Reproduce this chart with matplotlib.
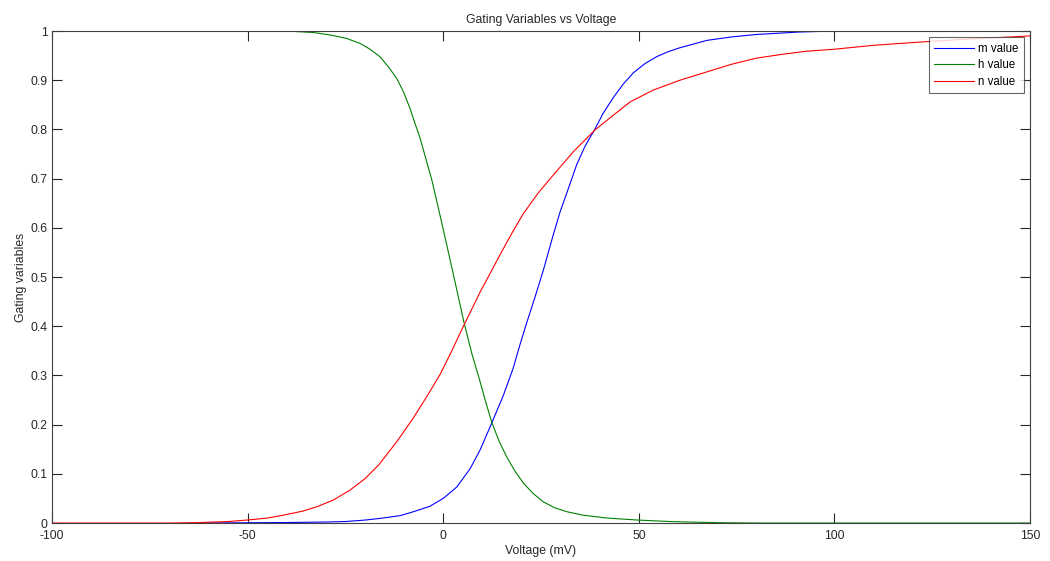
import numpy as np
import matplotlib
matplotlib.use('Agg')
import matplotlib.pyplot as plt

# values
v_m = [-62.7, -50, -40, -30, -25, -20, -16, -11, -7.6, -3.4, 0, 3.45, 6.85,
       9.4, 12.4, 15.4, 17.9, 19.6, 21.3, 23.5, 25.6, 28.1, 29.9, 32.0, 34.1,
       36.2, 38.8, 40.9, 43.5, 46.0, 48.6, 51.6, 54.6, 57.5, 60.5, 67.4, 73.7,
       80.1, 91, 100]
m_val = [0.0, 0.0005, 0.001, 0.002, 0.003, 0.006, 0.0095, 0.015, 0.023, 0.034,
         0.050, 0.073, 0.110, 0.148, 0.203, 0.260, 0.315, 0.362, 0.406, 0.460,
         0.514, 0.585, 0.633, 0.680, 0.728, 0.765, 0.801, 0.833, 0.865, 0.892,
         0.915, 0.934, 0.948, 0.958, 0.966, 0.981, 0.988, 0.993, 0.998, 1.0]

v_h = [-40, -33.2, -28.9, -24.7, -21.3, -18.7, -16.2, -14.0, -11.9, -10.2,
       -8.5, -7.2, -5.9, -4.7, -2.9, -0.8, 1.0, 2.6, 4.0, 5.3, 7.3, 9.4, 10.9,
       12.4, 14.3, 16.2, 18.3, 20.5, 23, 25.6, 28.5, 31.6, 35.7, 42, 49.8, 58,
       65.6, 72, 80, 150]
h_val = [1.0, 0.997, 0.992, 0.985, 0.975, 0.963, 0.948, 0.927, 0.904, 0.877,
         0.843, 0.812, 0.782, 0.748, 0.697, 0.625, 0.562, 0.505, 0.455, 0.408,
         0.345, 0.288, 0.245, 0.205, 0.166, 0.135, 0.106, 0.081, 0.060, 0.043,
         0.031, 0.023, 0.016, 0.010, 0.006, 0.003, 0.0015, 0.0005, 0.0, 0.0]

v_n = [-100, -70, -62.2, -55, -50.2, -45, -40.9, -36, -32.3, -28, -23.8, -20,
       -16.5, -11.9, -7.6, -4.2, -0.8, 2.2, 5.1, 7.7, 9.4, 11.1, 14.5, 17.9,
       20.5, 24.3, 28.1, 33.3, 38.8, 43.5, 47.8, 53.7, 60.5, 67.4, 73.5, 80.1,
       87, 93, 100, 110, 122.7, 135, 150]
n_val = [0.0, 0.0, 0.001, 0.003, 0.006, 0.010, 0.016, 0.024, 0.033, 0.047,
         0.067, 0.090, 0.118, 0.165, 0.214, 0.257, 0.302, 0.350, 0.399, 0.441,
         0.469, 0.494, 0.545, 0.594, 0.629, 0.671, 0.707, 0.755, 0.799, 0.829,
         0.856, 0.880, 0.900, 0.917, 0.932, 0.945, 0.953, 0.959, 0.963, 0.971,
         0.978, 0.984, 0.99]

xticks = [-100, -50, 0, 50, 100, 150]
yticks = [0, 0.1, 0.2, 0.3, 0.4, 0.5, 0.6, 0.7, 0.8, 0.9, 1]
ylabels = ['0', '0.1', '0.2', '0.3', '0.4', '0.5', '0.6', '0.7', '0.8', '0.9', '1']

plt.rcParams['font.family'] = ['Liberation Sans', 'DejaVu Sans']

fig = plt.figure(figsize=(10.5, 5.61), dpi=100)
ax = fig.add_axes([0.0495, 0.0677, 0.9315, 0.877])

ax.plot(v_m, m_val, color=(0, 0, 1), lw=0.8, label='m value')
ax.plot(v_h, h_val, color=(0, 0.5, 0), lw=0.8, label='h value')
ax.plot(v_n, n_val, color=(1, 0, 0), lw=0.8, label='n value')

ax.set_xlim(-100, 150)
ax.set_ylim(0, 1)
ax.set_xticks(xticks)
ax.set_xticklabels([str(t) for t in xticks])
ax.set_yticks(yticks)
ax.set_yticklabels(ylabels)
ax.tick_params(direction='in', length=7, width=0.8, top=True, right=True,
               labelsize=8.8, colors='0.15')
ax.tick_params(axis='x', pad=5)
ax.tick_params(axis='y', pad=3)
for sp in ax.spines.values():
    sp.set_color('0.25')
    sp.set_linewidth(0.8)

ax.set_title('Gating Variables vs Voltage', fontsize=8.8, color='0.15', pad=6)
ax.set_xlabel('Voltage (mV)', fontsize=8.8, color='0.15', labelpad=2)
ax.set_ylabel('Gating variables', fontsize=8.8, color='0.15', labelpad=3)

leg = ax.legend(loc='upper right', fontsize=8.3, frameon=True, fancybox=False,
                borderaxespad=0.55, handlelength=3.4, labelspacing=0.42,
                borderpad=0.45, handletextpad=0.4)
leg.get_frame().set_edgecolor('0.25')
leg.get_frame().set_linewidth(0.8)

fig.savefig('out.png', dpi=100)
